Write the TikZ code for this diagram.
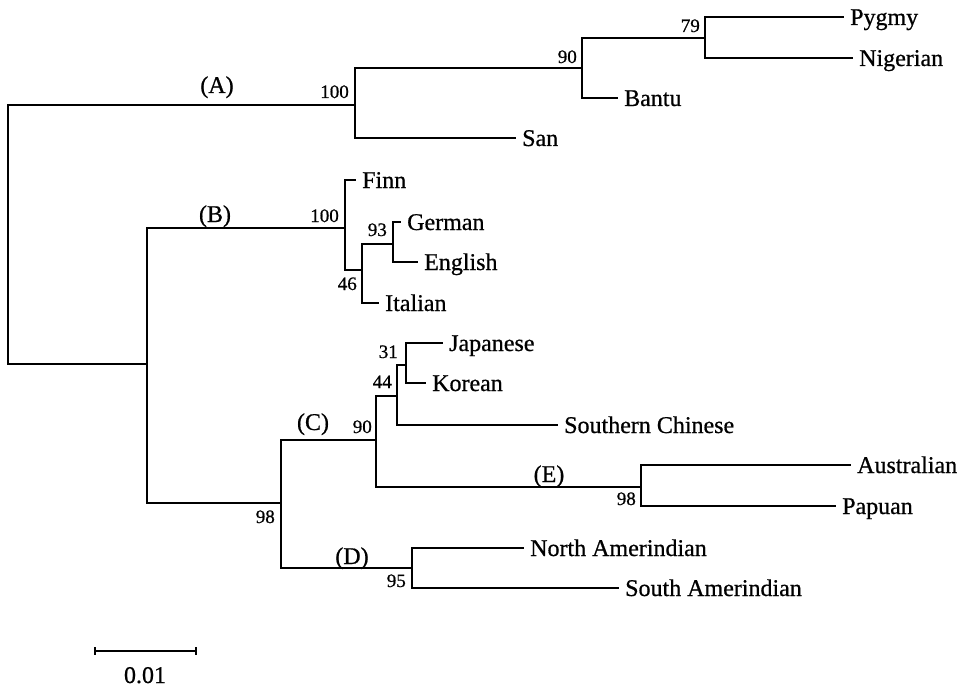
\documentclass[tikz,border=0pt]{standalone}
\usepackage{fontspec}
\setmainfont{Liberation Serif}[FakeBold=0.7]
\begin{document}
\begin{tikzpicture}[x=1pt,y=-1pt,
  br/.style={line width=2.2pt, line cap=rect, line join=miter},
  leaf/.style={anchor=base west, inner sep=0pt, xshift=7pt, yshift=-8pt, font=\fontsize{24}{26}\selectfont},
  boot/.style={anchor=base east, inner sep=0pt, font=\fontsize{19}{21}\selectfont},
  grp/.style={anchor=base, inner sep=0pt, font=\fontsize{24}{26}\selectfont}]
\useasboundingbox (0,0) rectangle (964,690);
% internal nodes
\coordinate (root) at (8,234);
\coordinate (nA) at (355,105);
\coordinate (nAf) at (582,68);
\coordinate (n79) at (705,38);
\coordinate (nB) at (147,364);
\coordinate (nEu) at (345,228);
\coordinate (n46) at (362,270);
\coordinate (n93) at (393,244);
\coordinate (nC) at (281,503);
\coordinate (nAs) at (376,440);
\coordinate (n44) at (397,396);
\coordinate (n31) at (406,365);
\coordinate (nE) at (641,487);
\coordinate (nD) at (412,568);
% leaf tips
\coordinate (tPygmy) at (843,17);
\coordinate (tNigerian) at (852,58);
\coordinate (tBantu) at (617,98);
\coordinate (tSan) at (515,138);
\coordinate (tFinn) at (355,180);
\coordinate (tGerman) at (400,222);
\coordinate (tEnglish) at (417,262);
\coordinate (tItalian) at (378,303);
\coordinate (tJapanese) at (442,343);
\coordinate (tKorean) at (425,383);
\coordinate (tSChinese) at (557,425);
\coordinate (tAustralian) at (850,465);
\coordinate (tPapuan) at (835,506);
\coordinate (tNAm) at (523,548);
\coordinate (tSAm) at (618,588);
% leaf labels
\node[leaf] (lPygmy) at (tPygmy) {Pygmy};
\node[leaf] (lNigerian) at (tNigerian) {Nigerian};
\node[leaf] (lBantu) at (tBantu) {Bantu};
\node[leaf] (lSan) at (tSan) {San};
\node[leaf] (lFinn) at (tFinn) {Finn};
\node[leaf] (lGerman) at (tGerman) {German};
\node[leaf] (lEnglish) at (tEnglish) {English};
\node[leaf] (lItalian) at (tItalian) {Italian};
\node[leaf] (lJapanese) at (tJapanese) {Japanese};
\node[leaf] (lKorean) at (tKorean) {Korean};
\node[leaf] (lSChinese) at (tSChinese) {Southern Chinese};
\node[leaf] (lAustralian) at (tAustralian) {Australian};
\node[leaf] (lPapuan) at (tPapuan) {Papuan};
\node[leaf] (lNAm) at (tNAm) {North Amerindian};
\node[leaf] (lSAm) at (tSAm) {South Amerindian};
% branches
\draw[br] (root) |- (nA);
\draw[br] (root) |- (nB);
\draw[br] (nA) |- (nAf);
\draw[br] (nA) |- (tSan);
\draw[br] (nAf) |- (n79);
\draw[br] (nAf) |- (tBantu);
\draw[br] (n79) |- (tPygmy);
\draw[br] (n79) |- (tNigerian);
\draw[br] (nB) |- (nEu);
\draw[br] (nB) |- (nC);
\draw[br] (nEu) |- (tFinn);
\draw[br] (nEu) |- (n46);
\draw[br] (n46) |- (n93);
\draw[br] (n46) |- (tItalian);
\draw[br] (n93) |- (tGerman);
\draw[br] (n93) |- (tEnglish);
\draw[br] (nC) |- (nAs);
\draw[br] (nC) |- (nD);
\draw[br] (nAs) |- (n44);
\draw[br] (nAs) |- (nE);
\draw[br] (n44) |- (n31);
\draw[br] (n44) |- (tSChinese);
\draw[br] (n31) |- (tJapanese);
\draw[br] (n31) |- (tKorean);
\draw[br] (nE) |- (tAustralian);
\draw[br] (nE) |- (tPapuan);
\draw[br] (nD) |- (tNAm);
\draw[br] (nD) |- (tSAm);
% bootstrap values
\node[boot] (bA) at (349,98) {100};
\node[boot] (bAf) at (577,63) {90};
\node[boot] (b79) at (700,32) {79};
\node[boot] (bEu) at (339,222) {100};
\node[boot] (b93) at (387,236) {93};
\node[boot] (b46) at (357,290) {46};
\node[boot] (b31) at (398,358) {31};
\node[boot] (b44) at (392,388) {44};
\node[boot] (bAs) at (372,433) {90};
\node[boot] (bC) at (275,523) {98};
\node[boot] (bD) at (406,587) {95};
\node[boot] (bE) at (636,505) {98};
% group labels
\node[grp] (gA) at (217,93) {(A)};
\node[grp] (gB) at (215,222) {(B)};
\node[grp] (gC) at (313,430) {(C)};
\node[grp] (gD) at (352,564) {(D)};
\node[grp] (gE) at (549,482) {(E)};
% scale bar
\coordinate (sbL) at (95,651);
\coordinate (sbR) at (196,651);
\draw[line width=2.8pt] (sbL) -- (sbR);
\draw[line width=1.8pt] ([yshift=4pt]sbL) -- ([yshift=-4pt]sbL);
\draw[line width=1.8pt] ([yshift=4pt]sbR) -- ([yshift=-4pt]sbR);
\node[grp] (sbLabel) at (145,683) {0.01};
\end{tikzpicture}
\end{document}
